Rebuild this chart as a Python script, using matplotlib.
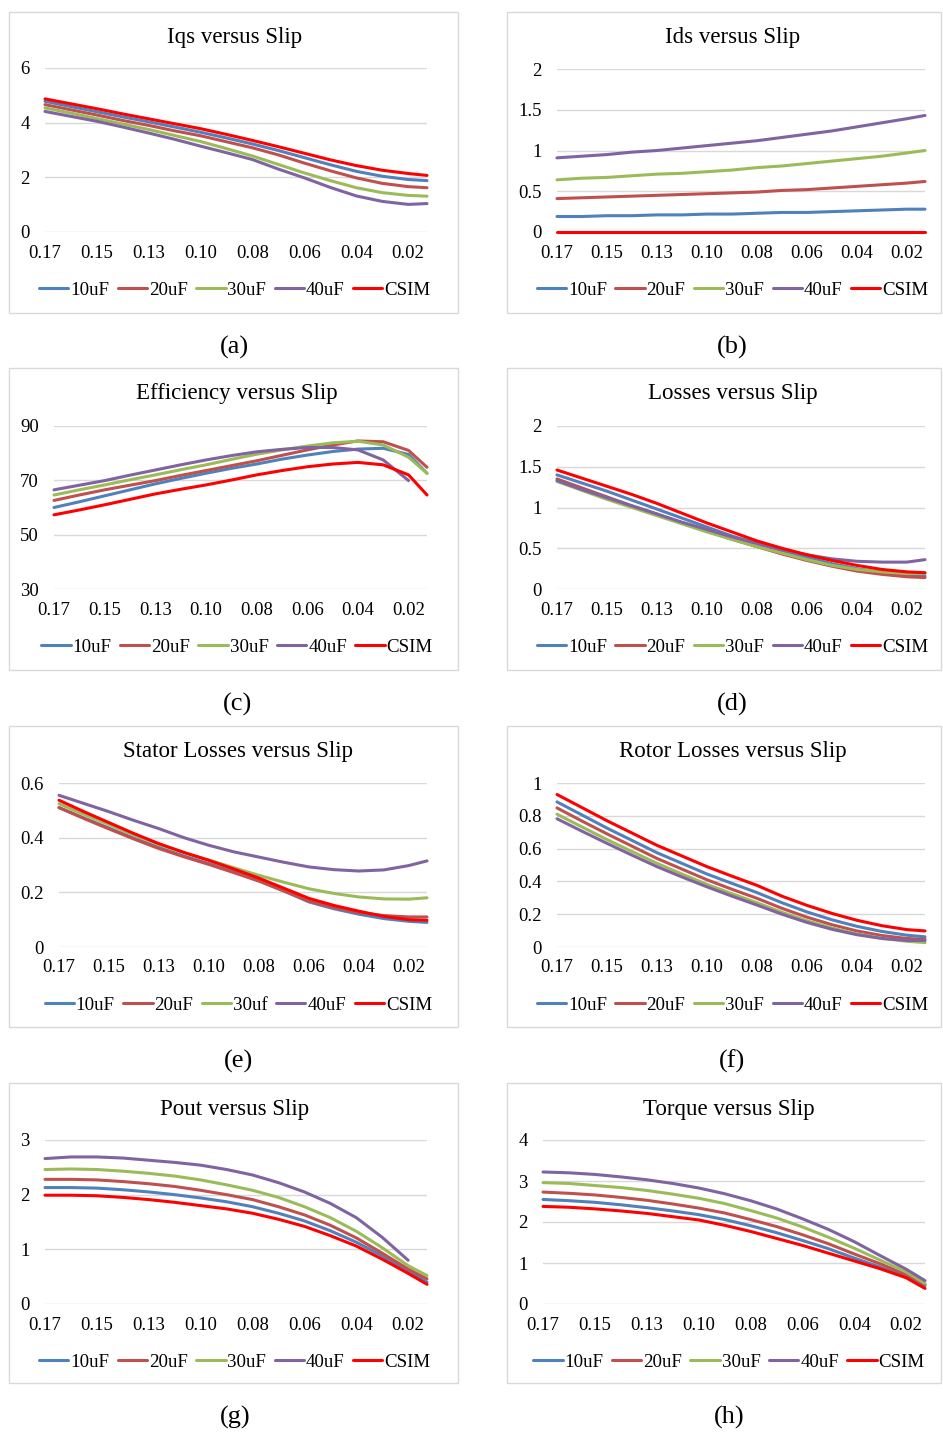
import matplotlib
matplotlib.use("Agg")
import matplotlib.pyplot as plt
from matplotlib.patches import Rectangle

nan = float("nan")

# slip values (x axis, decreasing), labels every second point
slip = [0.170, 0.159, 0.148, 0.137, 0.126, 0.115, 0.104, 0.093,
        0.082, 0.071, 0.060, 0.049, 0.038, 0.027, 0.016, 0.008]
tick_labels = ["0.17", "0.15", "0.13", "0.10", "0.08", "0.06", "0.04", "0.02"]
series = ["10uF", "20uF", "30uF", "40uF", "CSIM"]
series_e = ["10uF", "20uF", "30uf", "40uF", "CSIM"]
colors = ["#4F81BD", "#C0504D", "#9BBB59", "#8064A2", "#FF0000"]

# rows: 10uF, 20uF, 30uF, 40uF, CSIM
iqs = [
    [4.78, 4.59, 4.40, 4.21, 4.03, 3.84, 3.65, 3.44, 3.22, 2.98, 2.72, 2.46, 2.22, 2.04, 1.92, 1.88],
    [4.66, 4.47, 4.28, 4.08, 3.90, 3.70, 3.52, 3.30, 3.08, 2.82, 2.52, 2.24, 1.98, 1.78, 1.66, 1.62],
    [4.54, 4.35, 4.15, 3.95, 3.75, 3.53, 3.31, 3.05, 2.78, 2.47, 2.16, 1.88, 1.62, 1.44, 1.34, 1.31],
    [4.41, 4.23, 4.05, 3.84, 3.62, 3.39, 3.14, 2.90, 2.65, 2.30, 1.98, 1.63, 1.32, 1.12, 1.01, 1.04],
    [4.87, 4.69, 4.51, 4.32, 4.14, 3.96, 3.78, 3.57, 3.35, 3.12, 2.88, 2.64, 2.43, 2.26, 2.14, 2.07],
]
ids = [
    [0.19, 0.19, 0.20, 0.20, 0.21, 0.21, 0.22, 0.22, 0.23, 0.24, 0.24, 0.25, 0.26, 0.27, 0.28, 0.28],
    [0.41, 0.42, 0.43, 0.44, 0.45, 0.46, 0.47, 0.48, 0.49, 0.51, 0.52, 0.54, 0.56, 0.58, 0.60, 0.62],
    [0.64, 0.66, 0.67, 0.69, 0.71, 0.72, 0.74, 0.76, 0.79, 0.81, 0.84, 0.87, 0.90, 0.93, 0.97, 1.00],
    [0.91, 0.93, 0.95, 0.98, 1.00, 1.03, 1.06, 1.09, 1.12, 1.16, 1.20, 1.24, 1.29, 1.34, 1.39, 1.43],
    [0.00] * 16,
]
efficiency = [
    [60.0, 62.1, 64.3, 66.5, 68.7, 70.7, 72.6, 74.4, 76.0, 77.8, 79.3, 80.6, 81.5, 81.8, 79.5, 72.6],
    [62.6, 64.6, 66.5, 68.2, 69.9, 71.8, 73.6, 75.4, 77.2, 79.2, 81.2, 83.0, 84.5, 84.2, 81.0, 74.8],
    [64.6, 66.5, 68.3, 70.2, 72.0, 73.9, 75.7, 77.7, 79.6, 81.2, 82.6, 83.8, 84.4, 83.0, 78.5, 72.6],
    [66.5, 68.2, 69.9, 71.9, 73.8, 75.7, 77.5, 79.1, 80.5, 81.4, 82.1, 82.1, 81.2, 77.5, 69.9, nan],
    [57.3, 59.1, 61.0, 63.0, 65.0, 66.7, 68.3, 70.1, 72.0, 73.6, 75.0, 76.0, 76.6, 75.7, 72.0, 64.6],
]
losses = [
    [1.40, 1.30, 1.20, 1.09, 0.98, 0.87, 0.76, 0.65, 0.56, 0.47, 0.39, 0.31, 0.25, 0.20, 0.17, 0.16],
    [1.35, 1.24, 1.13, 1.02, 0.92, 0.81, 0.71, 0.61, 0.52, 0.43, 0.35, 0.28, 0.22, 0.18, 0.15, 0.14],
    [1.32, 1.21, 1.10, 1.00, 0.90, 0.80, 0.70, 0.61, 0.52, 0.44, 0.36, 0.29, 0.24, 0.21, 0.19, 0.19],
    [1.33, 1.22, 1.12, 1.02, 0.92, 0.82, 0.73, 0.64, 0.56, 0.48, 0.42, 0.37, 0.34, 0.33, 0.33, 0.36],
    [1.46, 1.36, 1.26, 1.16, 1.05, 0.93, 0.81, 0.70, 0.59, 0.50, 0.42, 0.35, 0.29, 0.24, 0.21, 0.20],
]
stator = [
    [0.510, 0.472, 0.435, 0.398, 0.364, 0.333, 0.305, 0.275, 0.243, 0.205, 0.165, 0.140, 0.120, 0.104, 0.094, 0.090],
    [0.510, 0.470, 0.432, 0.395, 0.360, 0.330, 0.302, 0.272, 0.241, 0.205, 0.168, 0.145, 0.126, 0.115, 0.110, 0.110],
    [0.524, 0.485, 0.448, 0.410, 0.375, 0.345, 0.318, 0.290, 0.262, 0.237, 0.213, 0.196, 0.183, 0.176, 0.175, 0.180],
    [0.555, 0.525, 0.495, 0.463, 0.433, 0.400, 0.372, 0.348, 0.329, 0.310, 0.293, 0.283, 0.278, 0.282, 0.298, 0.315],
    [0.537, 0.495, 0.455, 0.415, 0.378, 0.346, 0.317, 0.285, 0.252, 0.215, 0.178, 0.152, 0.131, 0.112, 0.100, 0.098],
]
rotor = [
    [0.885, 0.805, 0.725, 0.650, 0.575, 0.510, 0.445, 0.388, 0.332, 0.270, 0.214, 0.166, 0.126, 0.095, 0.072, 0.062],
    [0.848, 0.768, 0.690, 0.615, 0.540, 0.475, 0.410, 0.352, 0.297, 0.236, 0.182, 0.136, 0.098, 0.070, 0.052, 0.046],
    [0.810, 0.732, 0.655, 0.582, 0.510, 0.445, 0.382, 0.325, 0.270, 0.212, 0.160, 0.116, 0.080, 0.053, 0.035, 0.027],
    [0.782, 0.706, 0.632, 0.560, 0.490, 0.427, 0.367, 0.310, 0.256, 0.200, 0.150, 0.108, 0.075, 0.052, 0.040, 0.040],
    [0.930, 0.850, 0.770, 0.695, 0.620, 0.555, 0.490, 0.432, 0.376, 0.310, 0.254, 0.205, 0.163, 0.130, 0.106, 0.098],
]
pout = [
    [2.13, 2.13, 2.12, 2.09, 2.05, 2.00, 1.94, 1.87, 1.78, 1.66, 1.52, 1.34, 1.13, 0.88, 0.60, 0.40],
    [2.28, 2.28, 2.27, 2.24, 2.20, 2.15, 2.08, 2.00, 1.91, 1.78, 1.63, 1.44, 1.21, 0.93, 0.64, 0.46],
    [2.46, 2.47, 2.46, 2.43, 2.39, 2.34, 2.27, 2.18, 2.08, 1.95, 1.78, 1.58, 1.33, 1.03, 0.70, 0.52],
    [2.66, 2.69, 2.69, 2.67, 2.63, 2.59, 2.54, 2.46, 2.36, 2.22, 2.05, 1.84, 1.58, 1.22, 0.80, nan],
    [1.99, 1.99, 1.98, 1.95, 1.91, 1.86, 1.80, 1.74, 1.66, 1.55, 1.42, 1.25, 1.06, 0.82, 0.56, 0.36],
]
torque = [
    [2.55, 2.52, 2.48, 2.42, 2.35, 2.27, 2.18, 2.06, 1.91, 1.74, 1.55, 1.35, 1.12, 0.90, 0.67, 0.45],
    [2.73, 2.70, 2.66, 2.60, 2.53, 2.44, 2.34, 2.22, 2.06, 1.89, 1.69, 1.47, 1.22, 0.98, 0.72, 0.48],
    [2.96, 2.94, 2.89, 2.84, 2.77, 2.68, 2.58, 2.45, 2.28, 2.10, 1.88, 1.63, 1.36, 1.07, 0.78, 0.50],
    [3.22, 3.20, 3.16, 3.10, 3.03, 2.94, 2.83, 2.69, 2.52, 2.32, 2.08, 1.82, 1.52, 1.18, 0.85, 0.57],
    [2.38, 2.36, 2.32, 2.27, 2.21, 2.13, 2.05, 1.92, 1.77, 1.60, 1.43, 1.24, 1.05, 0.86, 0.64, 0.38],
]

W, H = 943, 1435
fig = plt.figure(figsize=(W / 100, H / 100), dpi=100)
fig.patch.set_facecolor("white")
plt.rcParams["font.family"] = ["Liberation Serif", "DejaVu Serif"]


def fx(px):
    return px / W


def fy(py):
    return 1 - py / H


# title, data, names, yticks, box (px), plot area (px), caption
panels = [
    ("Iqs versus Slip", iqs, series, [0, 2, 4, 6], (9, 12, 458, 313), (45, 68, 427, 232), "(a)"),
    ("Ids versus Slip", ids, series, [0, 0.5, 1, 1.5, 2], (507, 12, 941, 313), (557, 69, 925, 232), "(b)"),
    ("Efficiency versus Slip", efficiency, series, [30, 50, 70, 90], (9, 368, 458, 670), (54, 426, 427, 589), "(c)"),
    ("Losses versus Slip", losses, series, [0, 0.5, 1, 1.5, 2], (507, 368, 941, 670), (557, 426, 925, 589), "(d)"),
    ("Stator Losses versus Slip", stator, series_e, [0, 0.2, 0.4, 0.6], (9, 726, 458, 1027), (59, 783, 427, 947), "(e)"),
    ("Rotor Losses versus Slip", rotor, series, [0, 0.2, 0.4, 0.6, 0.8, 1], (507, 726, 941, 1027), (557, 783, 925, 947), "(f)"),
    ("Pout versus Slip", pout, series, [0, 1, 2, 3], (9, 1083, 458, 1383), (45, 1140, 427, 1304), "(g)"),
    ("Torque versus Slip", torque, series, [0, 1, 2, 3, 4], (507, 1083, 941, 1383), (543, 1140, 925, 1304), "(h)"),
]

for title, data, names, yticks, box, area, cap in panels:
    bx0, by0, bx1, by1 = box
    ax0, ay0, ax1, ay1 = area
    fig.add_artist(Rectangle((fx(bx0), fy(by1)), fx(bx1 - bx0), (by1 - by0) / H,
                             transform=fig.transFigure, fill=False,
                             edgecolor="#D9D9D9", linewidth=1))
    ax = fig.add_axes([fx(ax0), fy(ay1), fx(ax1 - ax0), (ay1 - ay0) / H])
    for vals, name, c in zip(data, names, colors):
        ax.plot(slip, vals, color=c, lw=2.2, label=name, clip_on=False,
                solid_capstyle="round")
    ax.set_xlim(slip[0], slip[-1])
    ax.set_ylim(yticks[0], yticks[-1])
    ax.set_xticks(slip[::2])
    ax.set_xticklabels(tick_labels)
    ax.set_yticks(yticks)
    ax.set_yticklabels(["%g" % v for v in yticks])
    ax.tick_params(axis="x", length=0, pad=9, labelsize=13.5)
    ax.tick_params(axis="y", length=0, pad=11, labelsize=13.5)
    ax.yaxis.grid(True, color="#D9D9D9", lw=1)
    ax.set_axisbelow(True)
    for s in ax.spines.values():
        s.set_visible(False)

    cx = ((bx0 + bx1) / 2 + (ax0 + ax1) / 2) / 2
    fig.text(fx(cx), fy(by0 + 26), title, ha="center", va="center", fontsize=16.5)
    ax.legend(loc="center", bbox_to_anchor=(fx(cx), fy(ay1 + 58)),
              bbox_transform=fig.transFigure, ncol=5, frameon=False,
              fontsize=13.6, handlelength=1.55, handletextpad=0.1,
              columnspacing=0.45, borderpad=0)
    fig.text(fx(cx), fy(by1 + 34), cap, ha="center", va="center",
             fontsize=19)

fig.savefig("out.png", dpi=100, facecolor="white")
